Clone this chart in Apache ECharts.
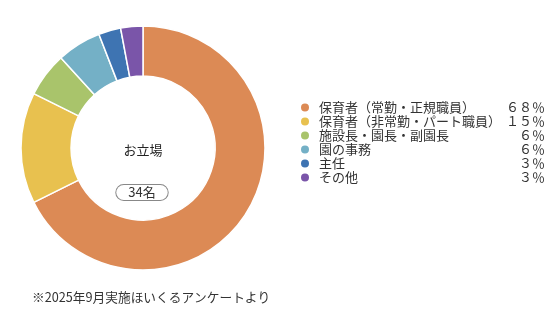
<!DOCTYPE html>
<html>
<head>
<meta charset="utf-8">
<script src="https://cdn.jsdelivr.net/npm/echarts@6/dist/echarts.min.js"></script>
<style>
html,body{margin:0;padding:0;background:#fff;}
#c{width:560px;height:323px;}
</style>
</head>
<body>
<div id="c"></div>
<script>
const categories = ['保育者（常勤・正規職員）','保育者（非常勤・パート職員）','施設長・園長・副園長','園の事務','主任','その他'];
const counts = [23, 5, 2, 2, 1, 1];
const percentLabels = ['６８％','１５％','６％','６％','３％','３％'];
const colors = ['#DC8A55','#E8C14F','#A9C46B','#74B0C6','#3E74B2','#7A55A9'];
const centerTitle = 'お立場';
const footnote = '※2025年9月実施ほいくるアンケートより';

const total = counts.reduce((a,b)=>a+b,0);
const FONT = '"Noto Sans CJK JP", "Noto Sans", sans-serif';

const chart = echarts.init(document.getElementById('c'), null, {renderer:'canvas'});
chart.setOption({
  animation:false,
  color: colors,
  legend:{
    orient:'vertical',
    left:294, top:95.5,
    icon:'circle',
    itemWidth:10, itemHeight:10,
    itemGap:0,
    selectedMode:false,
    textStyle:{
      fontFamily:FONT, fontSize:13, color:'#333', lineHeight:14,
      rich:{
        n:{width:186, fontFamily:FONT, fontSize:13, color:'#333', lineHeight:14, padding:[0,0,0,4]},
        p:{width:40, align:'right', fontFamily:FONT, fontSize:13, color:'#333', lineHeight:14}
      }
    },
    formatter:function(name){
      const i = categories.indexOf(name);
      return '{n|'+name+'}{p|'+percentLabels[i]+'}';
    },
    data: categories
  },
  series:[{
    type:'pie',
    center:[143,148],
    radius:[72,122],
    startAngle:90,
    clockwise:true,
    label:{show:false},
    labelLine:{show:false},
    emphasis:{disabled:true},
    itemStyle:{borderColor:'#fff', borderWidth:1.5},
    data: categories.map((c,i)=>({name:c, value:counts[i]}))
  }],
  graphic:[
    {type:'text', x:143, y:150, style:{text:centerTitle, font:'13px '+FONT, fill:'#222', align:'center', verticalAlign:'middle'}},
    {type:'text', x:142, y:192.5, style:{text:total+'名', font:'13px '+FONT, fill:'#333', align:'center', verticalAlign:'middle',
      padding:[1,12,1,12], borderColor:'#888', borderWidth:1, borderRadius:8, backgroundColor:'#fff'}},
    {type:'text', x:32, y:297, style:{text:footnote, font:'12.7px '+FONT, fill:'#333', align:'left', verticalAlign:'middle'}}
  ]
});
</script>
</body>
</html>
